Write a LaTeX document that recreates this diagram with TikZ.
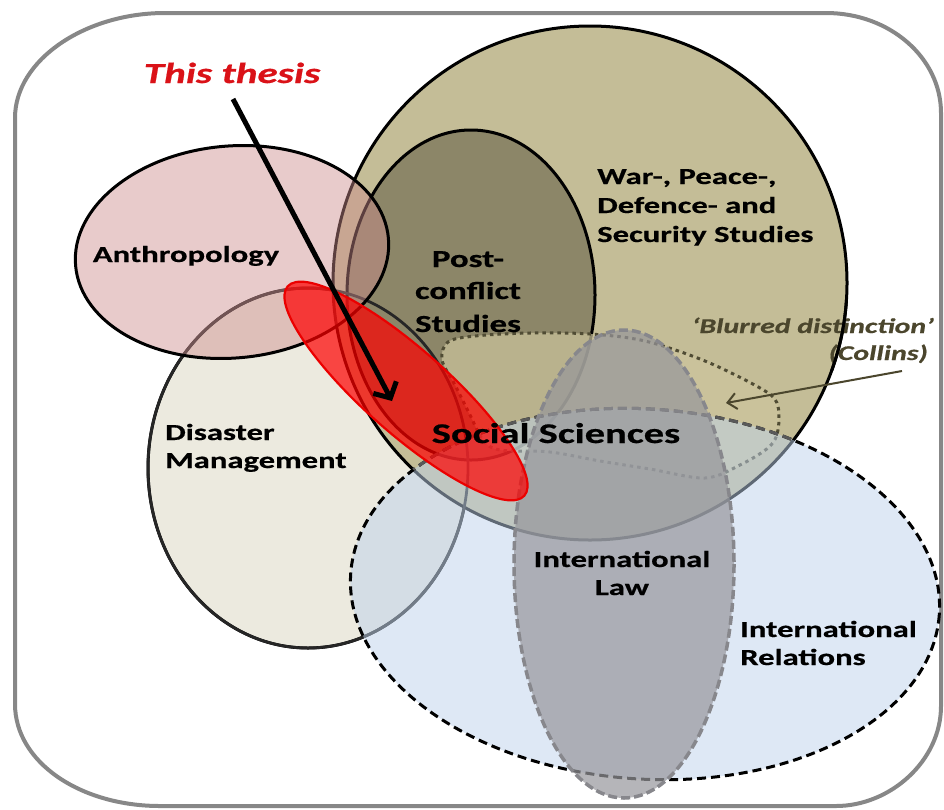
\documentclass[tikz,border=0pt]{standalone}
\usepackage{fontspec}
\setmainfont{Carlito}
\newfontfamily\lblfont{Carlito}[FakeStretch=1.42, BoldFeatures={FakeBold=0.6}, BoldItalicFeatures={FakeBold=0.6}]
\usetikzlibrary{arrows.meta}

\definecolor{wartan}{RGB}{196,189,151}
\definecolor{postolive}{RGB}{140,134,104}
\definecolor{disbeige}{RGB}{236,234,223}
\definecolor{anthpink}{RGB}{205,140,140}
\definecolor{irblue}{RGB}{190,210,235}
\definecolor{lawgray}{RGB}{150,150,155}
\definecolor{lawline}{RGB}{135,135,140}
\definecolor{blobfill}{RGB}{205,197,158}
\definecolor{blobline}{RGB}{80,76,52}
\definecolor{blurtext}{RGB}{75,70,45}
\definecolor{thesisred}{RGB}{218,18,24}
\definecolor{framegray}{RGB}{135,135,135}

\begin{document}
\begin{tikzpicture}[x=1pt,y=-1pt,
  field/.style={draw=black, line width=3pt},
  lbl/.style={inner sep=0pt, font=\lblfont\bfseries\fontsize{23}{28}\selectfont},
  biglbl/.style={inner sep=0pt, font=\lblfont\bfseries\fontsize{24.5}{30}\selectfont},
  sslbl/.style={inner sep=0pt, font=\lblfont\bfseries\fontsize{28.5}{34}\selectfont},
  thesislbl/.style={inner sep=0pt, text=thesisred, font=\lblfont\bfseries\itshape\fontsize{29}{34}\selectfont},
  blurlbl/.style={inner sep=0pt, text=blurtext, font=\lblfont\bfseries\itshape\fontsize{21}{26}\selectfont},
  irdash/.style={line width=3pt, dash pattern=on 9pt off 5pt},
  dotline/.style={draw=blobline, line width=3pt, dash pattern=on 3.5pt off 4pt}
]
\useasboundingbox (0,0) rectangle (944,809);

% outer frame with wide, flattened corners
\draw[framegray, line width=4pt]
  (165,13) -- (826,13) .. controls (890,13) and (941,58) .. (941,113)
  -- (941,706) .. controls (941,761) and (890,806) .. (836,806)
  -- (160,806) .. controls (80,806) and (15,762) .. (15,704)
  -- (15,118) .. controls (15,60) and (85,13) .. (165,13) -- cycle;

% Disaster Management
\fill[disbeige] (308,468) ellipse [x radius=160, y radius=180];
\draw[field] (308,468) ellipse [x radius=160, y radius=180];

% War-, Peace-, Defence- and Security Studies
\draw[field, fill=wartan] (590,283) ellipse [x radius=257, y radius=257];

% Post-conflict Studies
\draw[field, fill=postolive] (471,295) ellipse [x radius=124, y radius=165];

% Disaster Management outline shows through the studies fields
\draw[black!85, line width=2.8pt] (308,468) ellipse [x radius=160, y radius=180];

% Anthropology
\draw[field, fill=anthpink, fill opacity=0.45, rotate around={5:(232,252)}]
  (232,252) ellipse [x radius=157, y radius=106];

% 'Blurred distinction' area
\path[dotline, fill=blobfill, fill opacity=0.7] plot[smooth cycle, tension=0.55] coordinates {
  (448,342) (475,336) (530,333) (590,334) (645,341) (705,361) (760,388)
  (777,403) (778,430) (769,447) (740,465) (705,478) (650,469) (600,461)
  (550,452) (500,450) (483,440) (470,415) (455,385) (442,360)};

% International Relations
\fill[irblue, fill opacity=0.5, rotate around={-4:(645,594)}]
  (645,594) ellipse [x radius=295, y radius=185];
\draw[irdash, black, rotate around={-4:(645,594)}]
  (645,594) ellipse [x radius=295, y radius=185];
\begin{scope}
  \clip (590,283) ellipse [x radius=257, y radius=257];
  \draw[irdash, black!65, rotate around={-4:(645,594)}]
    (645,594) ellipse [x radius=295, y radius=185];
\end{scope}

% International Law
\fill[lawgray, fill opacity=0.7] (624,564) ellipse [x radius=110, y radius=234];
\draw[lawline, line width=3.5pt, dash pattern=on 9pt off 4pt]
  (624,564) ellipse [x radius=110, y radius=234];

% this thesis
\draw[red!92!black, line width=2.2pt, fill=red, fill opacity=0.7, rotate around={-41.5:(406,391)}]
  (406,391) ellipse [x radius=158, y radius=42];

% labels
\node[thesislbl, anchor=base] (thesis) at (232,83) {This thesis};
\node[lbl, anchor=base] (anth) at (186,262) {Anthropology};

\node[biglbl, anchor=base] (post1) at (468,267) {Post-};
\node[biglbl, anchor=base] (post2) at (468,299) {conflict};
\node[biglbl, anchor=base] (post3) at (468,332) {Studies};

\node[lbl, anchor=base west] (war1) at (597,184) {War-, Peace-,};
\node[lbl, anchor=base west] (war2) at (597,213) {Defence- and};
\node[lbl, anchor=base west] (war3) at (597,242) {Security Studies};

\node[blurlbl, anchor=base east] (blur1) at (934,333) {‘Blurred distinction’};
\node[blurlbl, anchor=base east] (blur2) at (928,360) {(Collins)};

\node[lbl, anchor=base west] (dis1) at (165,440) {Disaster};
\node[lbl, anchor=base west] (dis2) at (165,468) {Management};

\node[sslbl, anchor=base] (soc) at (556,443) {Social Sciences};

\node[lbl, anchor=base] (law1) at (622,567) {International};
\node[lbl, anchor=base] (law2) at (622,595) {Law};

\node[lbl, anchor=base west] (ir1) at (740,637) {International};
\node[lbl, anchor=base west] (ir2) at (740,665) {Relations};

% the field boundary runs across the annotation
\begin{scope}
  \clip (800,300) rectangle (880,370);
  \draw[field] (590,283) ellipse [x radius=257, y radius=257];
\end{scope}

% pointers
\coordinate (thesis-tail) at (233,99);
\coordinate (thesis-tip) at (392,401);
\draw[line width=5pt, -{Straight Barb[length=12pt,width=26pt]}] (thesis-tail) -- (thesis-tip);

\coordinate (collins-tail) at (902,371);
\coordinate (collins-tip) at (726,403);
\draw[blurtext, line width=2pt, -{Straight Barb[length=9pt,width=16pt]}] (collins-tail) -- (collins-tip);
\end{tikzpicture}
\end{document}
